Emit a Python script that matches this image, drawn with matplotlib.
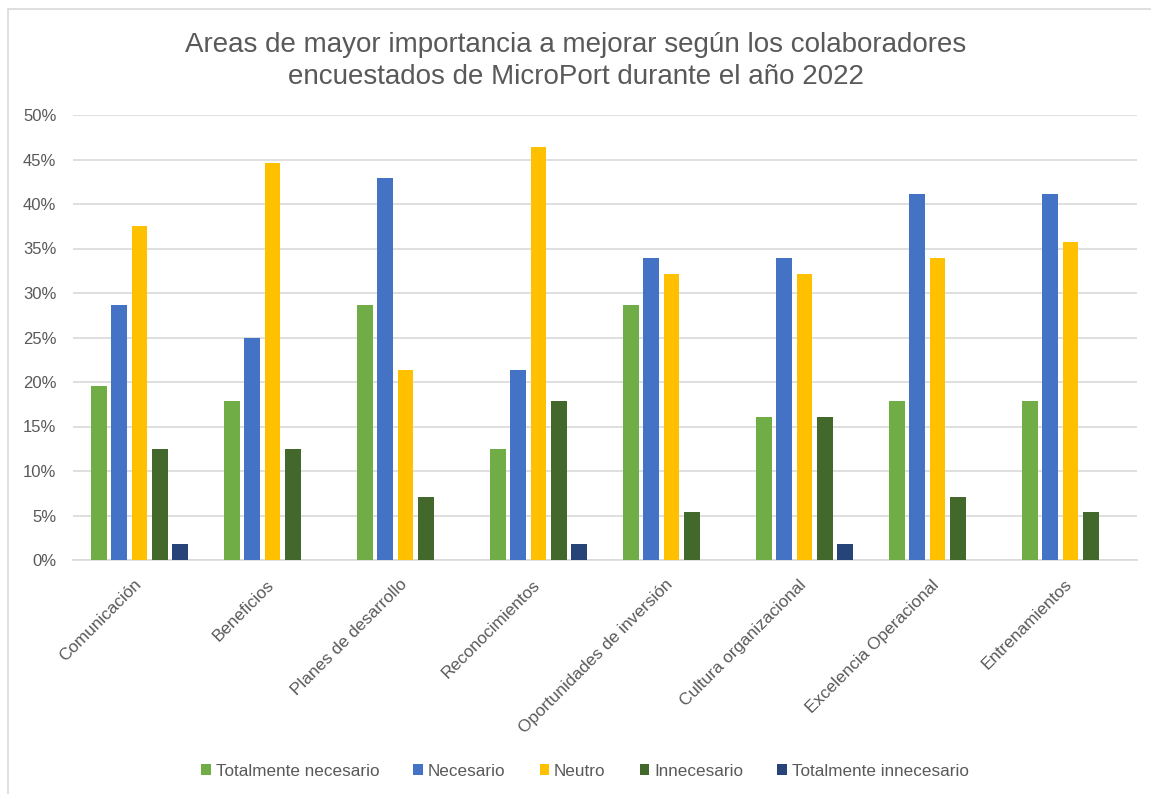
import matplotlib
matplotlib.use("Agg")
import matplotlib.pyplot as plt
import matplotlib.transforms as mtransforms
import numpy as np
from matplotlib.patches import Rectangle
from matplotlib.ticker import PercentFormatter, MultipleLocator

plt.rcParams["font.family"] = ["Liberation Sans", "DejaVu Sans"]

areas = [
    "Comunicación", "Beneficios", "Planes de desarrollo", "Reconocimientos",
    "Oportunidades de inversión", "Cultura organizacional",
    "Excelencia Operacional", "Entrenamientos",
]
series_names = [
    "Totalmente necesario", "Necesario", "Neutro",
    "Innecesario", "Totalmente innecesario",
]
# share of respondents per area (%)
totalmente_necesario = [19.6, 17.9, 28.6, 12.5, 28.6, 16.1, 17.9, 17.9]
necesario = [28.6, 25.0, 42.9, 21.4, 33.9, 33.9, 41.1, 41.1]
neutro = [37.5, 44.6, 21.4, 46.4, 32.1, 32.1, 33.9, 35.7]
innecesario = [12.5, 12.5, 7.1, 17.9, 5.4, 16.1, 7.1, 5.4]
totalmente_innecesario = [1.8, 0.0, 0.0, 1.8, 0.0, 1.8, 0.0, 0.0]

colors = ["#70AD47", "#4472C4", "#FFC000", "#43682B", "#264478"]
TXT = "#595959"
GRID = "#D9D9D9"

fig = plt.figure(figsize=(11.51, 7.94), dpi=100)
ax = fig.add_axes([73 / 1151, 1 - 560 / 794, 1064 / 1151, 445 / 794])

# light chart-area frame
fig.patches.append(Rectangle((8 / 1151, -0.01), 1.02, 1 - 9 / 794 + 0.01,
                             transform=fig.transFigure, fill=False,
                             edgecolor=GRID, linewidth=1.2))

x = np.arange(len(areas))
step = 0.153
width = 0.12
data = [totalmente_necesario, necesario, neutro, innecesario, totalmente_innecesario]
for i, (name, vals, c) in enumerate(zip(series_names, data, colors)):
    ax.bar(x + (i - 2) * step, vals, width=width, color=c, label=name, zorder=3)

ax.set_xlim(-0.5, len(areas) - 0.5)
ax.set_ylim(0, 50)
ax.yaxis.set_major_locator(MultipleLocator(5))
ax.yaxis.set_major_formatter(PercentFormatter(decimals=0))
ax.grid(True, axis="y", color=GRID, linewidth=1.2, zorder=0)
for s in ["top", "right", "left"]:
    ax.spines[s].set_visible(False)
ax.spines["bottom"].set_color(GRID)
ax.spines["bottom"].set_linewidth(1.2)
ax.tick_params(axis="both", length=0, labelsize=12, labelcolor=TXT)
ax.tick_params(axis="y", pad=12)

ax.set_xticks(x)
ax.set_xticklabels(areas, rotation=45, ha="right", va="center",
                   rotation_mode="anchor", fontsize=12.3)
ax.tick_params(axis="x", pad=16)
shift = mtransforms.ScaledTranslation(-1 / 100, 0, fig.dpi_scale_trans)
for lbl in ax.get_xticklabels():
    lbl.set_transform(lbl.get_transform() + shift)

fig.text(0.5, 1 - 61 / 794,
         "Areas de mayor importancia a mejorar según los colaboradores\n"
         "encuestados de MicroPort durante el año 2022",
         ha="center", va="center", fontsize=20, color=TXT, linespacing=1.3)

fig.legend(loc="center", bbox_to_anchor=(585 / 1151, 1 - 771 / 794), ncol=5,
           frameon=False, fontsize=12.3, labelcolor=TXT, handlelength=0.55,
           handleheight=0.55, handletextpad=0.3, columnspacing=2.0)

fig.savefig("out.png", dpi=100, facecolor="white")
